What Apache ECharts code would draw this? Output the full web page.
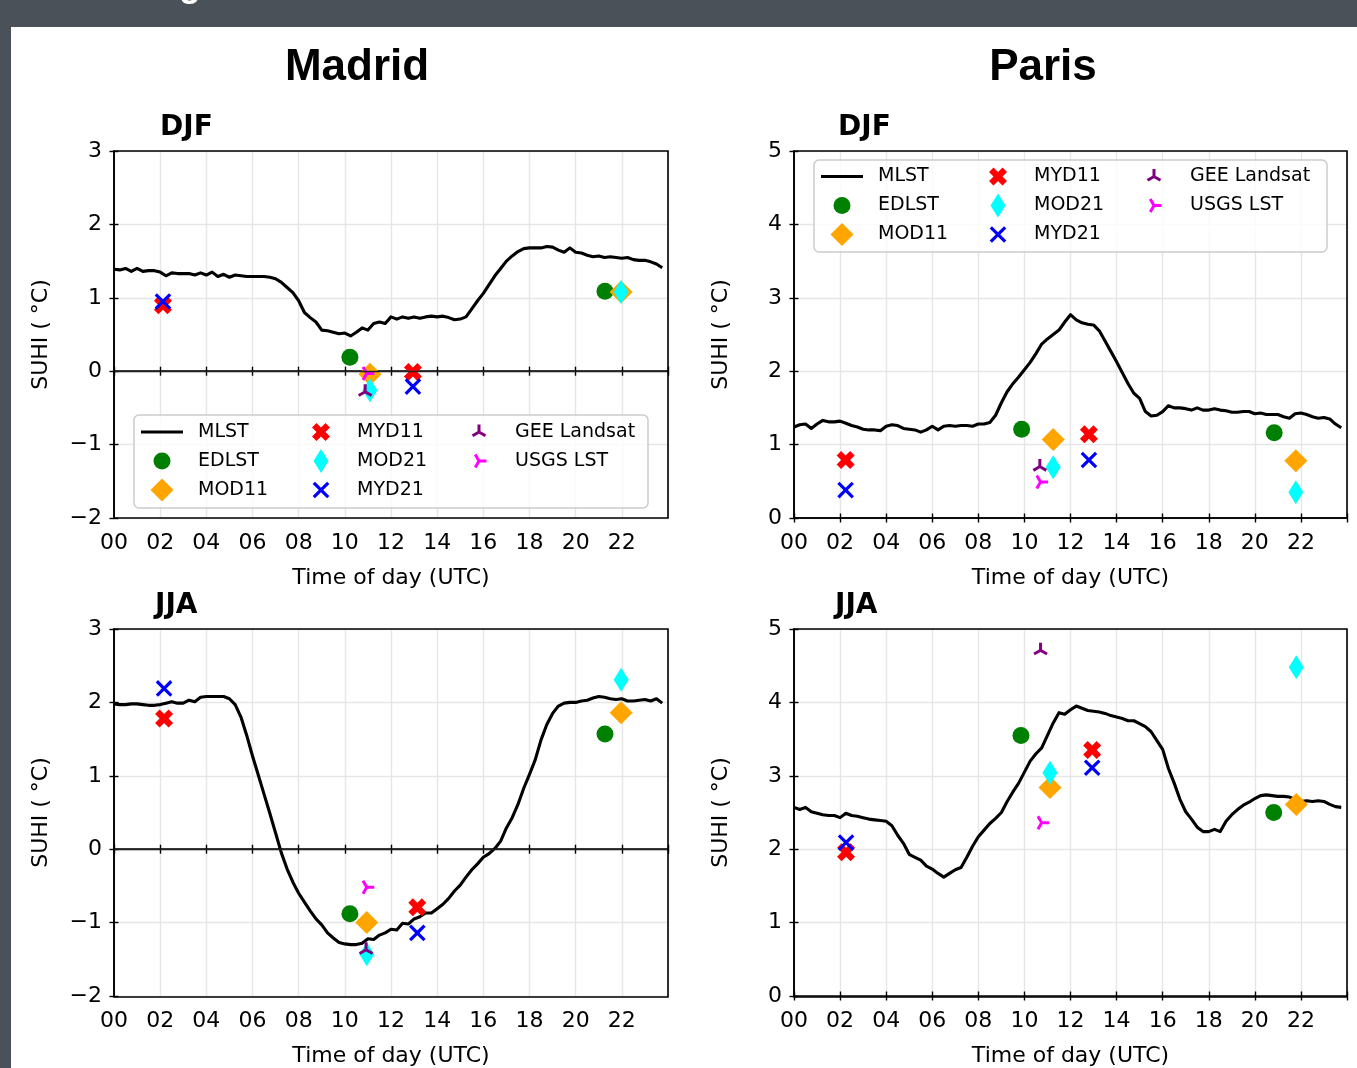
<!DOCTYPE html>
<html>
<head>
<meta charset="utf-8">
<script src="https://cdn.jsdelivr.net/npm/echarts/dist/echarts.min.js"></script>
<style>
  html, body { margin: 0; padding: 0; background: #4b5158; }
  #chart { width: 1357px; height: 1068px; }
</style>
</head>
<body>
<div id="chart"></div>
<script>
// Time of day (UTC), hours, 15-minute steps
const HOURS = [
  0, 0.25, 0.5, 0.75, 1, 1.25, 1.5, 1.75, 2, 2.25, 2.5, 2.75, 3, 3.25, 3.5, 3.75,
  4, 4.25, 4.5, 4.75, 5, 5.25, 5.5, 5.75, 6, 6.25, 6.5, 6.75, 7, 7.25, 7.5, 7.75,
  8, 8.25, 8.5, 8.75, 9, 9.25, 9.5, 9.75, 10, 10.25, 10.5, 10.75, 11, 11.25, 11.5, 11.75,
  12, 12.25, 12.5, 12.75, 13, 13.25, 13.5, 13.75, 14, 14.25, 14.5, 14.75, 15, 15.25, 15.5, 15.75,
  16, 16.25, 16.5, 16.75, 17, 17.25, 17.5, 17.75, 18, 18.25, 18.5, 18.75, 19, 19.25, 19.5, 19.75,
  20, 20.25, 20.5, 20.75, 21, 21.25, 21.5, 21.75, 22, 22.25, 22.5, 22.75, 23, 23.25, 23.5, 23.75];

// MLST diurnal SUHI (°C)
const MLST_MADRID_DJF = [
  1.39, 1.38, 1.40, 1.36, 1.40, 1.36, 1.37, 1.37, 1.35, 1.30, 1.34, 1.33, 1.33, 1.33, 1.31, 1.34,
  1.31, 1.35, 1.29, 1.32, 1.28, 1.31, 1.30, 1.29, 1.29, 1.29, 1.29, 1.28, 1.26, 1.21, 1.14, 1.07,
  0.96, 0.80, 0.73, 0.67, 0.56, 0.55, 0.53, 0.51, 0.52, 0.48, 0.53, 0.59, 0.56, 0.65, 0.67, 0.65,
  0.74, 0.71, 0.74, 0.72, 0.74, 0.72, 0.74, 0.75, 0.74, 0.75, 0.73, 0.70, 0.71, 0.74, 0.85, 0.96,
  1.06, 1.18, 1.30, 1.40, 1.50, 1.57, 1.63, 1.67, 1.68, 1.68, 1.68, 1.70, 1.69, 1.65, 1.62, 1.68,
  1.62, 1.61, 1.58, 1.56, 1.57, 1.55, 1.56, 1.55, 1.54, 1.55, 1.52, 1.51, 1.51, 1.49, 1.46, 1.41];
const MLST_PARIS_DJF = [
  1.24, 1.27, 1.28, 1.22, 1.28, 1.33, 1.31, 1.31, 1.32, 1.29, 1.26, 1.24, 1.21, 1.20, 1.20, 1.19,
  1.25, 1.27, 1.26, 1.22, 1.21, 1.20, 1.17, 1.20, 1.25, 1.20, 1.25, 1.26, 1.25, 1.26, 1.26, 1.25,
  1.28, 1.28, 1.30, 1.40, 1.57, 1.72, 1.83, 1.92, 2.02, 2.12, 2.24, 2.37, 2.44, 2.50, 2.56, 2.67,
  2.77, 2.70, 2.66, 2.64, 2.63, 2.55, 2.41, 2.27, 2.13, 1.98, 1.83, 1.70, 1.63, 1.45, 1.39, 1.40,
  1.45, 1.53, 1.50, 1.50, 1.49, 1.47, 1.50, 1.47, 1.47, 1.49, 1.47, 1.46, 1.44, 1.44, 1.45, 1.45,
  1.42, 1.43, 1.41, 1.41, 1.41, 1.38, 1.36, 1.42, 1.43, 1.41, 1.38, 1.36, 1.37, 1.35, 1.28, 1.23];
const MLST_MADRID_JJA = [
  1.98, 1.97, 1.97, 1.98, 1.98, 1.97, 1.96, 1.96, 1.97, 1.99, 2.01, 1.99, 1.99, 2.03, 2.01, 2.07,
  2.08, 2.08, 2.08, 2.08, 2.05, 1.97, 1.80, 1.55, 1.27, 1.01, 0.75, 0.49, 0.22, -0.05, -0.27, -0.45,
  -0.60, -0.72, -0.84, -0.95, -1.03, -1.14, -1.21, -1.27, -1.29, -1.30, -1.30, -1.28, -1.22, -1.23, -1.17, -1.14,
  -1.09, -1.10, -1.01, -1.02, -0.95, -0.92, -0.87, -0.87, -0.81, -0.75, -0.67, -0.57, -0.49, -0.38, -0.28, -0.20,
  -0.11, -0.06, 0.01, 0.11, 0.29, 0.43, 0.61, 0.83, 1.02, 1.22, 1.49, 1.70, 1.85, 1.95, 1.99, 2.00,
  2.00, 2.02, 2.03, 2.06, 2.08, 2.07, 2.05, 2.04, 2.05, 2.02, 2.02, 2.03, 2.04, 2.02, 2.05, 1.99];
const MLST_PARIS_JJA = [
  2.57, 2.54, 2.57, 2.51, 2.49, 2.47, 2.46, 2.46, 2.43, 2.49, 2.46, 2.45, 2.43, 2.41, 2.40, 2.39,
  2.38, 2.32, 2.19, 2.08, 1.93, 1.89, 1.85, 1.77, 1.73, 1.67, 1.62, 1.67, 1.72, 1.75, 1.89, 2.04,
  2.17, 2.26, 2.35, 2.42, 2.50, 2.65, 2.78, 2.90, 3.05, 3.20, 3.30, 3.38, 3.55, 3.72, 3.86, 3.84,
  3.90, 3.95, 3.92, 3.89, 3.88, 3.87, 3.85, 3.82, 3.80, 3.78, 3.75, 3.75, 3.71, 3.67, 3.60, 3.48,
  3.36, 3.10, 2.90, 2.68, 2.51, 2.41, 2.30, 2.24, 2.24, 2.27, 2.24, 2.38, 2.47, 2.54, 2.60, 2.64,
  2.69, 2.73, 2.74, 2.73, 2.72, 2.72, 2.71, 2.68, 2.65, 2.66, 2.65, 2.66, 2.65, 2.61, 2.58, 2.57];

// Satellite overpass estimates: [hour, SUHI]
const EDLST_MADRID_DJF = [[10.22, 0.19], [21.27, 1.09]];
const MOD11_MADRID_DJF = [[11.09, -0.04], [21.97, 1.08]];
const MYD11_MADRID_DJF = [[2.12, 0.90], [12.95, -0.01]];
const MOD21_MADRID_DJF = [[11.09, -0.26], [21.97, 1.08]];
const MYD21_MADRID_DJF = [[2.12, 0.95], [12.95, -0.21]];
const GEE_MADRID_DJF = [[10.88, -0.28]];
const USGS_MADRID_DJF = [[10.95, -0.03]];

const EDLST_PARIS_DJF = [[9.88, 1.21], [20.84, 1.16]];
const MOD11_PARIS_DJF = [[11.25, 1.07], [21.78, 0.78]];
const MYD11_PARIS_DJF = [[2.24, 0.79], [12.80, 1.14]];
const MOD21_PARIS_DJF = [[11.25, 0.69], [21.78, 0.35]];
const MYD21_PARIS_DJF = [[2.24, 0.38], [12.80, 0.79]];
const GEE_PARIS_DJF = [[10.67, 0.70]];
const USGS_PARIS_DJF = [[10.70, 0.49]];

const EDLST_MADRID_JJA = [[10.22, -0.88], [21.27, 1.57]];
const MOD11_MADRID_JJA = [[10.95, -1.00], [21.97, 1.86]];
const MYD11_MADRID_JJA = [[2.17, 1.78], [13.14, -0.79]];
const MOD21_MADRID_JJA = [[10.95, -1.43], [21.97, 2.31]];
const MYD21_MADRID_JJA = [[2.17, 2.19], [13.14, -1.14]];
const GEE_MADRID_JJA = [[10.92, -1.37]];
const USGS_MADRID_JJA = [[10.95, -0.52]];

const EDLST_PARIS_JJA = [[9.85, 3.55], [20.82, 2.50]];
const MOD11_PARIS_JJA = [[11.11, 2.84], [21.80, 2.61]];
const MYD11_PARIS_JJA = [[2.26, 1.96], [12.94, 3.35]];
const MOD21_PARIS_JJA = [[11.11, 3.04], [21.80, 4.48]];
const MYD21_PARIS_JJA = [[2.26, 2.09], [12.94, 3.11]];
const GEE_PARIS_JJA = [[10.70, 4.71]];
const USGS_PARIS_JJA = [[10.75, 2.36]];

const X_TICKS = [0, 2, 4, 6, 8, 10, 12, 14, 16, 18, 20, 22];
const CITY_TITLES = ['Madrid', 'Paris'];
const SEASON_TITLES = ['DJF', 'JJA'];
const Y_NAME = 'SUHI ( °C)';
const X_NAME = 'Time of day (UTC)';

// ---- marker shapes (all drawn inside the same square box so sizes stay true) ----
const BOX = 12.5;
const FRAME = `M${-BOX} ${-BOX}L${-BOX} ${-BOX}M${BOX} ${BOX}L${BOX} ${BOX}`;
const f = n => n.toFixed(2);
function poly(pts) { return 'M' + pts.map(p => f(p[0]) + ' ' + f(p[1])).join('L') + 'Z'; }
function circle(r) { return `M${-r} 0A${r} ${r} 0 1 0 ${r} 0A${r} ${r} 0 1 0 ${-r} 0Z`; }
function diamond(hw, hh) { return poly([[0, -hh], [hw, 0], [0, hh], [-hw, 0]]); }
function xFilled(s) {
  const h = s / 2;
  return poly([[-h, -s], [0, -h], [h, -s], [s, -h], [h, 0], [s, h], [h, s], [0, h], [-h, s], [-s, h], [-h, 0], [-s, -h]]);
}
function xThin(a, t) {
  const h = t / 2 / Math.SQRT2, d = t / Math.SQRT2;
  return poly([[-a + h, -a - h], [0, -d], [a - h, -a - h], [a + h, -a + h], [d, 0], [a + h, a - h],
    [a - h, a + h], [0, d], [-a + h, a + h], [-a - h, a - h], [-d, 0], [-a - h, -a + h]]);
}
function tri(rot, r, t) {
  const w = t / 2, k = w / Math.sin(Math.PI / 3), pts = [];
  for (let i = 0; i < 3; i++) {
    const a = (rot + 120 * i) * Math.PI / 180;
    const dx = Math.cos(a), dy = Math.sin(a), px = -dy, py = dx, b = a - Math.PI / 3;
    pts.push([k * Math.cos(b), k * Math.sin(b)]);
    pts.push([r * dx - w * px, r * dy - w * py]);
    pts.push([r * dx + w * px, r * dy + w * py]);
  }
  return poly(pts);
}
const sym = p => 'path://' + FRAME + p;

const PRODUCTS = [
  { name: 'EDLST', color: '#008000', symbol: sym(circle(8.5)) },
  { name: 'MOD11', color: '#ffa500', symbol: sym(diamond(11.5, 11.5)) },
  { name: 'MYD11', color: '#ff0000', symbol: sym(xFilled(9)) },
  { name: 'MOD21', color: '#00ffff', symbol: sym(diamond(7.5, 12)) },
  { name: 'MYD21', color: '#0000ff', symbol: sym(xThin(7.2, 3.2)) },
  { name: 'GEE Landsat', color: '#800080', symbol: sym(tri(-90, 7.5, 3)) },
  { name: 'USGS LST', color: '#ff00ff', symbol: sym(tri(0, 7.5, 3)) }
];

const PANELS = [
  { mlst: MLST_MADRID_DJF, pts: [EDLST_MADRID_DJF, MOD11_MADRID_DJF, MYD11_MADRID_DJF, MOD21_MADRID_DJF, MYD21_MADRID_DJF, GEE_MADRID_DJF, USGS_MADRID_DJF], ymin: -2, ymax: 3, zero: true },
  { mlst: MLST_PARIS_DJF, pts: [EDLST_PARIS_DJF, MOD11_PARIS_DJF, MYD11_PARIS_DJF, MOD21_PARIS_DJF, MYD21_PARIS_DJF, GEE_PARIS_DJF, USGS_PARIS_DJF], ymin: 0, ymax: 5, zero: false },
  { mlst: MLST_MADRID_JJA, pts: [EDLST_MADRID_JJA, MOD11_MADRID_JJA, MYD11_MADRID_JJA, MOD21_MADRID_JJA, MYD21_MADRID_JJA, GEE_MADRID_JJA, USGS_MADRID_JJA], ymin: -2, ymax: 3, zero: true },
  { mlst: MLST_PARIS_JJA, pts: [EDLST_PARIS_JJA, MOD11_PARIS_JJA, MYD11_PARIS_JJA, MOD21_PARIS_JJA, MYD21_PARIS_JJA, GEE_PARIS_JJA, USGS_PARIS_JJA], ymin: 0, ymax: 5, zero: false }
];

// ---- layout ----
const GRIDS = [
  { left: 114, top: 151, width: 554, height: 367 },
  { left: 794, top: 151, width: 553, height: 367 },
  { left: 114, top: 629, width: 554, height: 368 },
  { left: 794, top: 629, width: 553, height: 368 }
];
const FONT = 'DejaVu Sans';
const TICK_FONT = { fontFamily: FONT, fontSize: 22, color: '#000' };
const TICK_LINE = { color: '#000', width: 1.4 };
const minus = v => (v < 0 ? '\u2212' + Math.abs(v) : String(v));

const xAxes = [], yAxes = [], series = [];
GRIDS.forEach((g, i) => {
  const p = PANELS[i];
  // main axes (ticks reaching outward, labels, grid lines)
  xAxes.push({
    gridIndex: i, type: 'value', min: 0, max: 24, interval: 2, position: 'bottom',
    axisLine: { show: true, lineStyle: { color: '#000', width: 1.6 } },
    axisTick: { show: true, length: 4.5, lineStyle: TICK_LINE },
    axisLabel: Object.assign({ margin: 14, formatter: v => (X_TICKS.indexOf(v) >= 0 ? String(v).padStart(2, '0') : '') }, TICK_FONT),
    splitLine: { show: true, lineStyle: { color: '#e6e6e6', width: 1.4 } },
    name: X_NAME, nameLocation: 'middle', nameGap: 49, nameTextStyle: TICK_FONT
  });
  yAxes.push({
    gridIndex: i, type: 'value', min: p.ymin, max: p.ymax, interval: 1, position: 'left',
    axisLine: { show: true, lineStyle: { color: '#000', width: 1.6 } },
    axisTick: { show: true, length: 4.5, lineStyle: TICK_LINE },
    axisLabel: Object.assign({ margin: 12, formatter: minus }, TICK_FONT),
    splitLine: { show: true, lineStyle: { color: '#e6e6e6', width: 1.4 } },
    name: Y_NAME, nameLocation: 'middle', nameRotate: 90, nameGap: 62, nameTextStyle: TICK_FONT
  });
});
// companion axes: the inner half of each tick mark
GRIDS.forEach((g, i) => {
  const p = PANELS[i];
  xAxes.push({
    gridIndex: i, type: 'value', min: 0, max: 24, interval: 2, position: 'bottom',
    axisLine: { show: false }, axisLabel: { show: false }, splitLine: { show: false },
    axisTick: { show: true, inside: true, length: 4.5, lineStyle: TICK_LINE }
  });
  yAxes.push({
    gridIndex: i, type: 'value', min: p.ymin, max: p.ymax, interval: 1, position: 'left',
    axisLine: { show: false }, axisLabel: { show: false }, splitLine: { show: false },
    axisTick: { show: true, inside: true, length: 4.5, lineStyle: TICK_LINE }
  });
});

GRIDS.forEach((g, i) => {
  const p = PANELS[i];
  const line = {
    name: 'MLST', type: 'line', xAxisIndex: i, yAxisIndex: i, symbol: 'none',
    data: HOURS.map((h, k) => [h, p.mlst[k]]),
    lineStyle: { color: '#000', width: 3.1, join: 'round' }, itemStyle: { color: '#000' }, z: 2
  };
  if (p.zero) {
    line.markLine = {
      silent: true, symbol: ['none', 'none'], label: { show: false },
      lineStyle: { color: '#222', width: 1.3, type: 'solid' }, data: [{ yAxis: 0 }]
    };
  }
  series.push(line);
  PRODUCTS.forEach((prod, j) => {
    series.push({
      name: prod.name, type: 'scatter', xAxisIndex: i, yAxisIndex: i,
      symbol: prod.symbol, symbolSize: 2 * BOX, data: p.pts[j],
      itemStyle: { color: prod.color, opacity: 1 }, z: 3
    });
  });
});

// legend: three columns per box; marker-only columns are inset so markers line up with column one
const ITEM_W = 42;
const INSET = (ITEM_W - 2 * BOX) / 2;
const LINE_ICON = `path://M0 0L0 0M${ITEM_W} ${2 * BOX}L${ITEM_W} ${2 * BOX}M0 ${BOX - 1.55}L${ITEM_W} ${BOX - 1.55}L${ITEM_W} ${BOX + 1.55}L0 ${BOX + 1.55}Z`;
function legendColumn(left, top, names) {
  return {
    left, top, orient: 'vertical', padding: 0, itemGap: 4, itemWidth: ITEM_W, itemHeight: 2 * BOX,
    selectedMode: false, z: 6,
    data: names.map(n => (n === 'MLST' ? { name: n, icon: LINE_ICON } : { name: n })),
    textStyle: { fontFamily: FONT, fontSize: 19, color: '#000', padding: [0, 0, 0, 10] }
  };
}
const LEGEND_COLS = [['MLST', 'EDLST', 'MOD11'], ['MYD11', 'MOD21', 'MYD21'], ['GEE Landsat', 'USGS LST']];
const legends = [
  legendColumn(141, 419.5, LEGEND_COLS[0]), legendColumn(300 + INSET, 419.5, LEGEND_COLS[1]), legendColumn(458 + INSET, 419.5, LEGEND_COLS[2]),
  legendColumn(821, 164, LEGEND_COLS[0]), legendColumn(977 + INSET, 164, LEGEND_COLS[1]), legendColumn(1133 + INSET, 164, LEGEND_COLS[2])
];

const graphics = [
  { type: 'rect', shape: { x: 11, y: 27, width: 1346, height: 1041 }, style: { fill: '#ffffff' }, z: -10, silent: true },
  { type: 'text', x: 179, y: 4, style: { text: 'g', fill: '#ffffff', font: 'bold 36px "Liberation Sans"', align: 'left', verticalAlign: 'bottom' }, z: -5, silent: true },
  { type: 'text', x: 357, y: 68, style: { text: CITY_TITLES[0], fill: '#000', font: 'bold 44px "Liberation Sans"', align: 'center', verticalAlign: 'middle' }, silent: true },
  { type: 'text', x: 1043, y: 68, style: { text: CITY_TITLES[1], fill: '#000', font: 'bold 44px "Liberation Sans"', align: 'center', verticalAlign: 'middle' }, silent: true },
  { type: 'text', x: 160, y: 128, style: { text: SEASON_TITLES[0], fill: '#000', font: 'bold 28px "DejaVu Sans"', align: 'left', verticalAlign: 'middle' }, silent: true },
  { type: 'text', x: 838, y: 128, style: { text: SEASON_TITLES[0], fill: '#000', font: 'bold 28px "DejaVu Sans"', align: 'left', verticalAlign: 'middle' }, silent: true },
  { type: 'text', x: 155, y: 606, style: { text: SEASON_TITLES[1], fill: '#000', font: 'bold 28px "DejaVu Sans"', align: 'left', verticalAlign: 'middle' }, silent: true },
  { type: 'text', x: 835, y: 606, style: { text: SEASON_TITLES[1], fill: '#000', font: 'bold 28px "DejaVu Sans"', align: 'left', verticalAlign: 'middle' }, silent: true },
  { type: 'rect', shape: { x: 134, y: 415, width: 514, height: 93, r: 5 }, style: { fill: 'rgba(255,255,255,0.8)', stroke: '#cccccc', lineWidth: 1.5 }, z: 5, silent: true },
  { type: 'rect', shape: { x: 814, y: 160, width: 513, height: 92, r: 5 }, style: { fill: 'rgba(255,255,255,0.8)', stroke: '#cccccc', lineWidth: 1.5 }, z: 5, silent: true }
];
GRIDS.forEach(g => {
  graphics.push({ type: 'rect', shape: { x: g.left, y: g.top, width: g.width, height: g.height },
    style: { fill: 'none', stroke: '#000', lineWidth: 1.6 }, z: 10, silent: true });
});

const chart = echarts.init(document.getElementById('chart'), null, { renderer: 'canvas' });
chart.setOption({
  animation: false,
  backgroundColor: '#4b5158',
  grid: GRIDS.map(g => Object.assign({ containLabel: false }, g)),
  xAxis: xAxes,
  yAxis: yAxes,
  legend: legends,
  graphic: { elements: graphics },
  series
});
</script>
</body>
</html>
